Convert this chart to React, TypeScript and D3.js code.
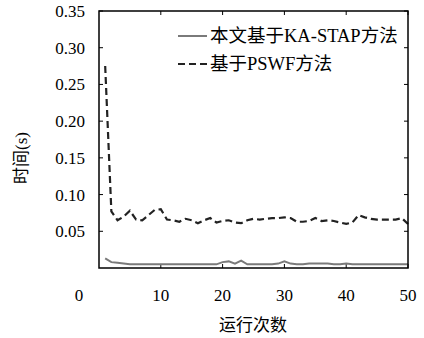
import { useEffect, useRef } from "react"
import * as d3 from "d3"

const runs = d3.range(1, 51)

const kaStap = [
  0.013, 0.008, 0.007, 0.006, 0.005, 0.005, 0.005, 0.005, 0.005, 0.005,
  0.005, 0.005, 0.005, 0.005, 0.005, 0.005, 0.005, 0.005, 0.005, 0.008,
  0.009, 0.006, 0.010, 0.005, 0.005, 0.005, 0.005, 0.005, 0.006, 0.009,
  0.006, 0.005, 0.005, 0.006, 0.006, 0.006, 0.006, 0.005, 0.005, 0.006,
  0.005, 0.005, 0.005, 0.005, 0.005, 0.005, 0.005, 0.005, 0.005, 0.005,
]

const pswf = [
  0.275, 0.077, 0.065, 0.070, 0.078, 0.066, 0.065, 0.072, 0.079, 0.080,
  0.066, 0.065, 0.063, 0.067, 0.065, 0.061, 0.065, 0.068, 0.062, 0.064,
  0.065, 0.062, 0.061, 0.065, 0.067, 0.066, 0.067, 0.068, 0.068, 0.069,
  0.068, 0.063, 0.063, 0.064, 0.068, 0.064, 0.065, 0.064, 0.062, 0.060,
  0.062, 0.072, 0.069, 0.067, 0.066, 0.066, 0.066, 0.066, 0.068, 0.060,
]

const xTicks = [10, 20, 30, 40, 50]
const yTicks = [0.05, 0.1, 0.15, 0.2, 0.25, 0.3, 0.35]
const legendLabels = ["本文基于KA-STAP方法", "基于PSWF方法"]

const font = "\"Liberation Serif\", \"DejaVu Serif\", \"Noto Sans CJK SC\", serif"

export default function App() {
  const ref = useRef<SVGSVGElement | null>(null)

  useEffect(() => {
    const svg = d3.select(ref.current)
    svg.selectAll("*").remove()

    const width = 424
    const height = 338
    const margin = { top: 11, right: 16, bottom: 70, left: 99 }

    const x = d3.scaleLinear().domain([0, 50]).range([margin.left, width - margin.right])
    const y = d3.scaleLinear().domain([0, 0.35]).range([height - margin.bottom, margin.top])

    const g = svg.append("g").style("font-family", font).style("font-size", "17px")

    // ticks inside the box, on all four sides
    const tickLen = 4
    xTicks.forEach(t => {
      g.append("line").attr("x1", x(t)).attr("x2", x(t))
        .attr("y1", y(0)).attr("y2", y(0) - tickLen).attr("stroke", "#000")
      g.append("line").attr("x1", x(t)).attr("x2", x(t))
        .attr("y1", y(0.35)).attr("y2", y(0.35) + tickLen).attr("stroke", "#000")
    })
    yTicks.forEach(t => {
      g.append("line").attr("x1", x(0)).attr("x2", x(0) + tickLen)
        .attr("y1", y(t)).attr("y2", y(t)).attr("stroke", "#000")
      g.append("line").attr("x1", x(50)).attr("x2", x(50) - tickLen)
        .attr("y1", y(t)).attr("y2", y(t)).attr("stroke", "#000")
    })

    // tick labels
    g.selectAll(".xl").data([0, ...xTicks]).enter().append("text")
      .attr("x", d => d === 0 ? x(0) - 20 : x(d))
      .attr("y", 301)
      .attr("text-anchor", "middle")
      .text(d => d)

    g.selectAll(".yl").data(yTicks).enter().append("text")
      .attr("x", 85)
      .attr("y", d => y(d) + 6)
      .attr("text-anchor", "end")
      .text(d => d.toFixed(2))

    // lines
    const line = (vals: number[]) => d3.line<number>()
      .x((_, i) => x(runs[i]))
      .y(d => y(d))(vals)

    g.append("path").attr("d", line(kaStap)!)
      .attr("fill", "none").attr("stroke", "#7a7a7a").attr("stroke-width", 2)

    g.append("path").attr("d", line(pswf)!)
      .attr("fill", "none").attr("stroke", "#222").attr("stroke-width", 2.2)
      .attr("stroke-dasharray", "7,4")

    // frame
    g.append("rect")
      .attr("x", x(0)).attr("y", y(0.35))
      .attr("width", x(50) - x(0)).attr("height", y(0) - y(0.35))
      .attr("fill", "none").attr("stroke", "#000").attr("stroke-width", 1.5)

    // legend
    const leg = g.append("g")
    legendLabels.forEach((lab, i) => {
      const ly = 36 + i * 28
      leg.append("line")
        .attr("x1", 178).attr("x2", 207).attr("y1", ly).attr("y2", ly)
        .attr("stroke", i === 0 ? "#7a7a7a" : "#222")
        .attr("stroke-width", 2)
        .attr("stroke-dasharray", i === 0 ? null : "7,4")
      leg.append("text")
        .attr("x", 210).attr("y", ly + 6)
        .style("font-size", "18.5px")
        .text(lab)
    })

    // axis titles
    g.append("text")
      .attr("x", 253).attr("y", 331)
      .attr("text-anchor", "middle")
      .text("运行次数")

    g.append("text")
      .attr("transform", "translate(27,158) rotate(-90)")
      .attr("text-anchor", "middle")
      .text("时间(s)")
  }, [])

  return (
    <svg ref={ref} width={424} height={338}
      style={{ position: "absolute", left: 0, top: 0, background: "#fff" }} />
  )
}
